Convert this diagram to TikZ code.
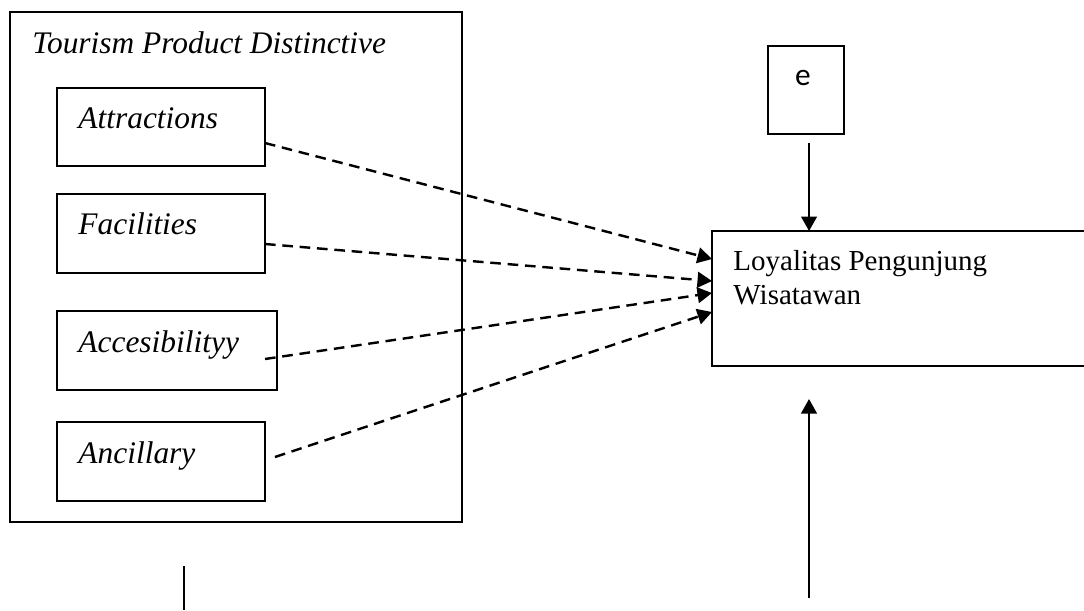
\documentclass[tikz,border=0pt]{standalone}
\usepackage{fontspec}
\setmainfont{Liberation Serif}
\newfontfamily\efont{Carlito}
\usetikzlibrary{arrows.meta,calc}

\tikzset{
	box/.style={draw,line width=0.75pt,inner sep=0pt,outer sep=0pt,anchor=north west},
	lbl/.style={inner sep=0pt,anchor=base west,font=\fontsize{13}{15}\selectfont\itshape},
	dasharrow/.style={line width=1pt,dash pattern=on 4.4pt off 2.8pt,-{Triangle[length=6pt,width=6.5pt]}},
	solidarrow/.style={line width=0.9pt,-{Triangle[length=6pt,width=6.5pt]}}
}

\begin{document}
\begin{tikzpicture}[x=0.414pt,y=-0.414pt]
	\useasboundingbox (0,0) rectangle (1084,610);
	%    outer box
	\node[box,minimum width=187.1pt,minimum height=211.1pt] (tpd) at (10,12) {};
	\node[lbl] (tpdlbl) at ($(tpd.north west)+(22,41)$) {Tourism Product Distinctive};

	\node[box,minimum width=86.1pt,minimum height=32.3pt] (attr) at (57,88) {};
	\node[lbl] (attrlbl) at ($(attr.north west)+(21,40)$) {Attractions};

	\node[box,minimum width=86.1pt,minimum height=32.7pt] (fac) at (57,194) {};
	\node[lbl] (faclbl) at ($(fac.north west)+(21,40)$) {Facilities};

	\node[box,minimum width=91.1pt,minimum height=32.7pt] (acc) at (57,311) {};
	\node[lbl] (acclbl) at ($(acc.north west)+(21,41)$) {Accesibilityy};

	\node[box,minimum width=86.1pt,minimum height=32.7pt] (anc) at (57,422) {};
	\node[lbl] (anclbl) at ($(anc.north west)+(21,41)$) {Ancillary};

	%    right side
	\node[box,minimum width=31.5pt,minimum height=36.4pt] (ebox) at (768,46) {};
	\node[inner sep=0pt,anchor=base,font=\efont\fontsize{13}{15}\selectfont] (elbl) at ($(ebox.north)+(-3,39)$) {e};

	\node[box,minimum width=164.8pt,minimum height=55.9pt] (loy) at (712,231) {};
	\node[inner sep=0pt,anchor=north west,align=left,font=\fontsize{12}{14.2}\selectfont] (loylbl) at ($(loy.north west)+(21,19)$) {Loyalitas Pengunjung\\Wisatawan};

	\coordinate (eout) at ($(ebox.south)+(3,9)$);
	\coordinate (src) at (809,598);

	\draw [dasharrow] ($(attr.east)+(0,16)$) -- ($(loy.west)+(0,-39.5)$);
	\draw [dasharrow] ($(fac.east)+(0,10.5)$) -- ($(loy.west)+(0,-17.5)$);
	\draw [dasharrow] ($(acc.east)+(-12,8.5)$) -- ($(loy.west)+(0,-5.5)$);
	\draw [dasharrow] ($(anc.east)+(10,-4.5)$) -- ($(loy.west)+(0,13.5)$);
	\draw [solidarrow] (eout) -- (eout |- loy.north);
	\draw [solidarrow] (src) -- ($(loy.south -| src)+(0,33)$);
	\draw [line width=0.9pt] (184,566) -- (184,610);
\end{tikzpicture}
\end{document}
